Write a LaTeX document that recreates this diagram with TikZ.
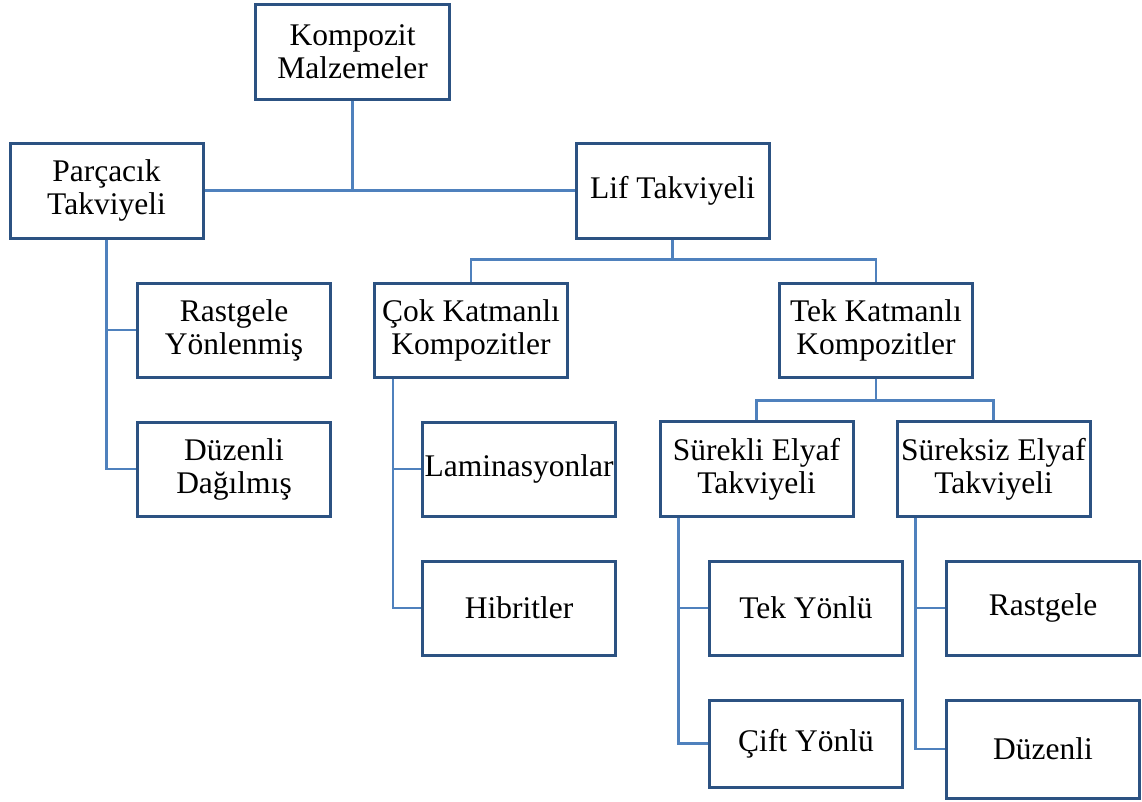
\documentclass[tikz,border=0pt]{standalone}
\usepackage{fontspec}
\setmainfont{Liberation Serif}
\usepackage{tikz}
\usetikzlibrary{positioning}
\definecolor{kompedge}{RGB}{44,82,130}
\definecolor{komplinkc}{RGB}{79,129,189}
\tikzset{
  komppicture/.style={x=1pt, y=1pt, node distance=42pt},
  kompbox/.style={draw=kompedge, line width=3pt, fill=white, align=center, inner sep=0pt, minimum width=193pt, minimum height=94pt, font=\fontsize{31.5}{33}\selectfont},
  komplink/.style={draw=komplinkc, line width=2.8pt}
}

\begin{document}
\begin{tikzpicture}[komppicture]
\useasboundingbox (0,0) rectangle (1142,-801);
\node[kompbox, minimum width=194pt, minimum height=95pt] (komp) at (352.5,-51.5) {Kompozit\\Malzemeler};
\node[kompbox, minimum height=95pt] (parc) at (106.5,-190.5) {Parçacık\\Takviyeli};
\node[kompbox, minimum height=95pt] (lif) at (672.5,-190.5) {Lif Takviyeli};
\node[kompbox] (rast) at (234,-330) {Rastgele\\Yönlenmiş};
\node[kompbox, below=of rast] (duz) {Düzenli\\Dağılmış};
\node[kompbox] (cok) at (471,-330) {Çok Katmanlı\\Kompozitler};
\node[kompbox] (lam) at (519,-469) {Laminasyonlar};
\node[kompbox, below=of lam] (hib) {Hibritler};
\node[kompbox] (tek) at (876,-330) {Tek Katmanlı\\Kompozitler};
\node[kompbox, minimum height=95pt] (sur) at (756.5,-469) {Sürekli Elyaf\\Takviyeli};
\node[kompbox, minimum height=95pt] (surk) at (993.5,-469) {Süreksiz Elyaf\\Takviyeli};
\node[kompbox] (tekyon) at (806,-608) {Tek Yönlü};
\node[kompbox, minimum height=87pt, below=of tekyon] (cift) {Çift Yönlü};
\node[kompbox] (rastg) at (1043,-608) {Rastgele};
\node[kompbox, minimum height=98pt, below=of rastg] (duzenli) {Düzenli};
% top level
\draw[komplink] (parc.east) -- (lif.west);
\draw[komplink] (komp.south) -- (komp.south |- lif.west);
% particle branch
\draw[komplink] (parc.south) |- (duz.west);
\draw[komplink] (parc.south |- rast.west) -- (rast.west);
% fibre branch
\draw[komplink] (lif.south) -- ++(0,-20) coordinate (lifbar);
\draw[komplink] (cok.north) |- (lifbar) -| (tek.north);
\draw[komplink] ([xshift=20pt]cok.south west) |- (hib.west);
\draw[komplink] ([xshift=20pt]cok.south west |- lam.west) -- (lam.west);
\draw[komplink] (tek.south) -- ++(0,-22) coordinate (tekbar);
\draw[komplink] (sur.north) |- (tekbar) -| (surk.north);
\draw[komplink] ([xshift=20pt]sur.south west) |- (cift.west);
\draw[komplink] ([xshift=20pt]sur.south west |- tekyon.west) -- (tekyon.west);
\draw[komplink] ([xshift=20pt]surk.south west) |- (duzenli.west);
\draw[komplink] ([xshift=20pt]surk.south west |- rastg.west) -- (rastg.west);
\end{tikzpicture}
\end{document}
